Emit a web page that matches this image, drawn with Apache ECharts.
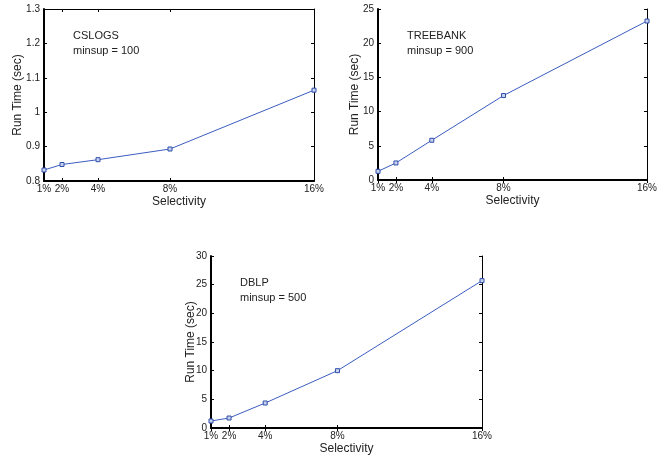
<!DOCTYPE html>
<html>
<head>
<meta charset="utf-8">
<script src="https://cdn.jsdelivr.net/npm/echarts@6/dist/echarts.min.js"></script>
<style>
  html, body { margin: 0; padding: 0; background: #fff; }
  #main { width: 669px; height: 456px; }
</style>
</head>
<body>
<div id="main"></div>
<script>
// selectivity (%) on the x axis, shared by all three plots
var selectivity = [1, 2, 4, 8, 16];
var cslogsTime = [0.832, 0.848, 0.862, 0.893, 1.064];
var treebankTime = [1.27, 2.49, 5.81, 12.35, 23.24];
var dblpTime = [1.22, 1.74, 4.36, 10.0, 25.7];

var myChart = echarts.init(document.getElementById('main'));

var font = 'Liberation Sans, Arial, sans-serif';
var lineColor = '#3a5cc0';

// each plot: grid box, y range, data, annotation
var plots = [
    { left: 44, top: 9, width: 270, height: 172, ymin: 0.8, ymax: 1.3, step: 0.1, data: cslogsTime, name: 'CSLOGS', sup: 'minsup = 100', nameGap: 20 },
    { left: 378, top: 9, width: 269, height: 171, ymin: 0, ymax: 25, step: 5, data: treebankTime, name: 'TREEBANK', sup: 'minsup = 900', nameGap: 17 },
    { left: 211, top: 256, width: 271, height: 172, ymin: 0, ymax: 30, step: 5, data: dblpTime, name: 'DBLP', sup: 'minsup = 500', nameGap: 14 }
];

var grid = [], xAxis = [], yAxis = [], series = [], graphic = [];

plots.forEach(function (p, i) {
    grid.push({ left: p.left, top: p.top, width: p.width, height: p.height, show: false });

    // bottom axis with labels
    xAxis.push({
        type: 'value', gridIndex: i, min: 1, max: 16, position: 'bottom',
        name: 'Selectivity', nameLocation: 'middle', nameGap: 15, nameMoveOverlap: false,
        nameTextStyle: { fontFamily: font, fontSize: 12, color: '#222' },
        axisLine: { show: true, lineStyle: { color: '#000', width: 2 } },
        axisTick: { show: true, inside: true, length: 3, customValues: selectivity, lineStyle: { color: '#000' } },
        axisLabel: { customValues: selectivity, formatter: '{value}%', margin: 3, fontFamily: font, fontSize: 10, color: '#222' },
        splitLine: { show: false }
    });
    // top axis: ticks only
    xAxis.push({
        type: 'value', gridIndex: i, min: 1, max: 16, position: 'top',
        axisLine: { show: true, lineStyle: { color: '#000', width: 1 } },
        axisTick: { show: true, inside: true, length: 3, customValues: selectivity, lineStyle: { color: '#000' } },
        axisLabel: { show: false },
        splitLine: { show: false }
    });

    yAxis.push({
        type: 'value', gridIndex: i, min: p.ymin, max: p.ymax, interval: p.step, position: 'left',
        name: 'Run Time (sec)', nameLocation: 'middle', nameGap: p.nameGap, nameMoveOverlap: false,
        nameTextStyle: { fontFamily: font, fontSize: 12, color: '#222' },
        axisLine: { show: true, lineStyle: { color: '#000', width: 2 } },
        axisTick: { show: true, inside: true, length: 3, lineStyle: { color: '#000' } },
        axisLabel: { margin: 4, fontFamily: font, fontSize: 10, color: '#222',
            formatter: function (v) { return String(Math.round(v * 10) / 10); } },
        splitLine: { show: false }
    });
    yAxis.push({
        type: 'value', gridIndex: i, min: p.ymin, max: p.ymax, interval: p.step, position: 'right',
        axisLine: { show: true, lineStyle: { color: '#000', width: 1 } },
        axisTick: { show: true, inside: true, length: 3, lineStyle: { color: '#000' } },
        axisLabel: { show: false },
        splitLine: { show: false }
    });

    series.push({
        type: 'line',
        xAxisIndex: i * 2,
        yAxisIndex: i * 2,
        data: selectivity.map(function (s, k) { return [s, p.data[k]]; }),
        symbol: 'rect',
        symbolSize: 4,
        lineStyle: { color: lineColor, width: 1 },
        itemStyle: { color: '#c8d2f0', borderColor: '#2f4fa8', borderWidth: 1 },
        animation: false
    });

    graphic.push({
        type: 'text',
        left: p.left + 29,
        top: p.top + 19,
        style: { text: p.name + '\n' + p.sup, font: '11px ' + font, fill: '#222', lineHeight: 15 }
    });
});

var option = {
    animation: false,
    grid: grid,
    xAxis: xAxis,
    yAxis: yAxis,
    series: series,
    graphic: graphic
};
myChart.setOption(option);
</script>
</body>
</html>
